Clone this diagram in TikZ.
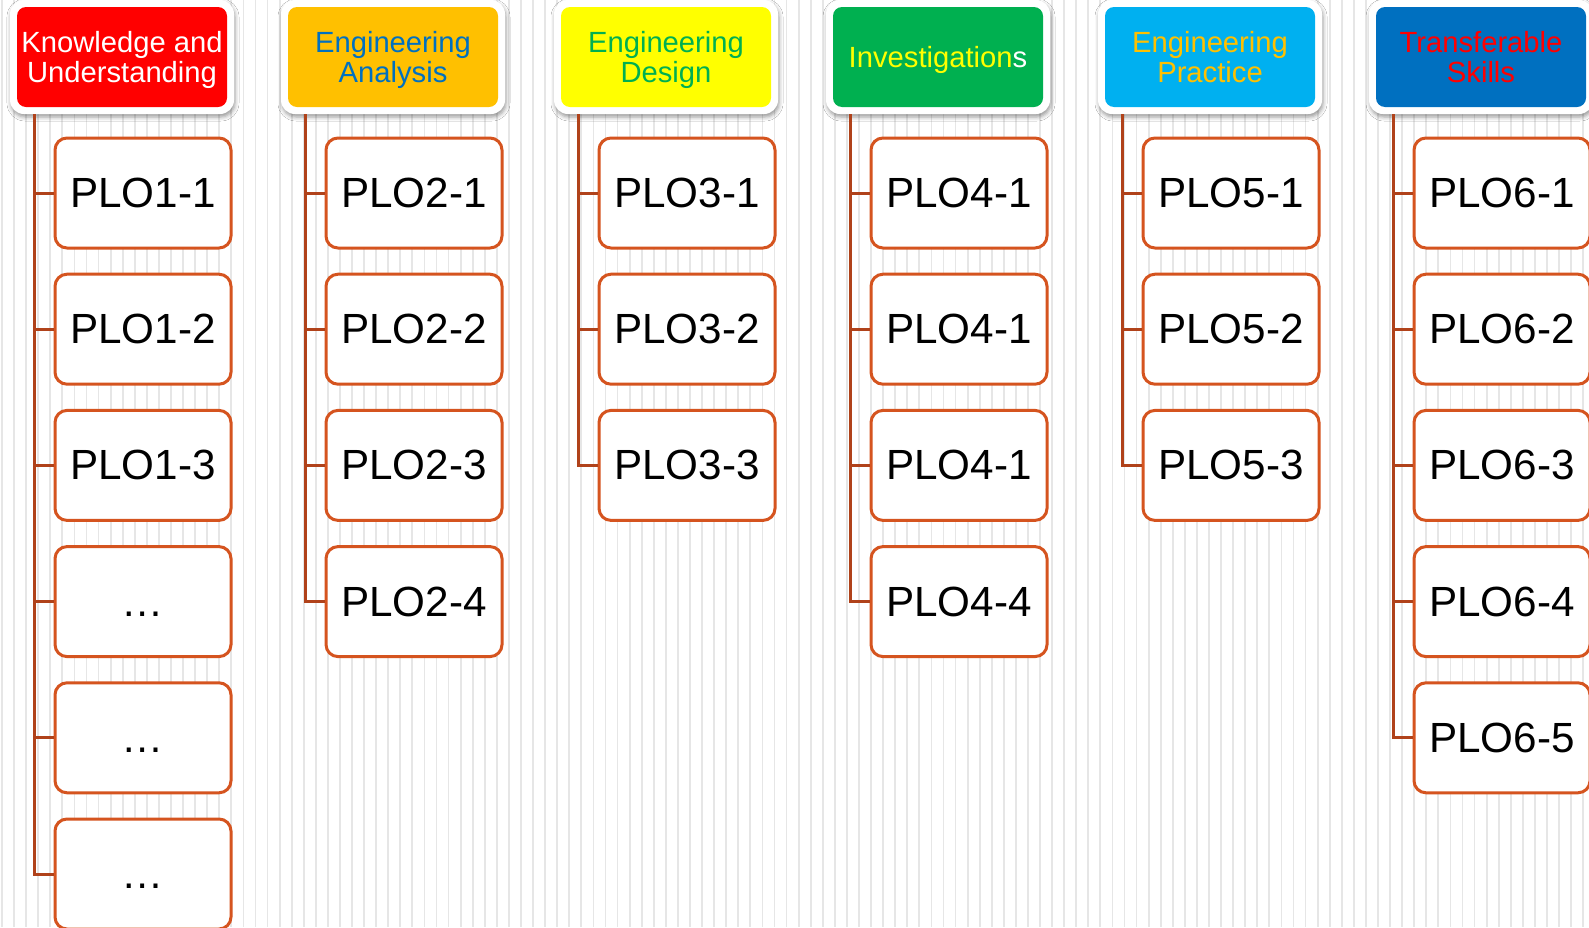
\documentclass[tikz,border=0pt]{standalone}
\usepackage{fontspec}
\setmainfont{Liberation Sans}
\usetikzlibrary{shadows.blur}

\definecolor{ploedge}{HTML}{D5541F}
\definecolor{linkc}{HTML}{B0421A}
\definecolor{stripe}{HTML}{E6E6E6}
\definecolor{hRed}{HTML}{FF0000}
\definecolor{hAmber}{HTML}{FFC000}
\definecolor{hYellow}{HTML}{FFFF00}
\definecolor{hGreen}{HTML}{00B050}
\definecolor{hSky}{HTML}{00B0F0}
\definecolor{hBlue}{HTML}{0070C0}

\tikzset{
  hdrframe/.style={fill=white, rounded corners=14pt, minimum width=224pt,
    minimum height=114pt, inner sep=0pt,
    blur shadow={shadow xshift=1pt, shadow yshift=-3pt,
      shadow blur radius=4pt, shadow opacity=40}},
  hdrbox/.style={rounded corners=9pt, minimum width=210pt, minimum height=100pt,
    inner sep=0pt, align=center, text depth=0pt,
    font=\fontsize{29.2}{30}\selectfont},
  plo/.style={draw=ploedge, line width=3pt, fill=white, rounded corners=12pt,
    minimum width=176pt, minimum height=110pt, inner sep=0pt,
    font=\fontsize{42.2}{48}\selectfont},
  link/.style={draw=linkc, line width=3pt, line join=miter},
}

% ellipsis sitting on the text baseline
\newcommand{\plodots}{\vphantom{P}…}

% header of a column: #1 index, #2 left x, #3 fill, #4 text colour, #5 title
\newcommand{\ploHeader}[5]{%
  \node[hdrframe] (f#1) at (#2+105,57) {};
  \node[hdrbox, fill=#3, text=#4] (h#1) at (#2+105,57) {#5};
  \coordinate (t#1) at (#2+17,114);
}
% outcome boxes of a column: #1 index, #2 left x, #3 list of labels
\newcommand{\ploColumn}[3]{%
  \foreach \lbl [count=\k from 0] in {#3} {
    \node[plo] (c#1-\k) at (#2+126,193+136.2*\k) {\lbl};
    \draw[link] (t#1) |- (c#1-\k.west);
  }
}

\begin{document}
\begin{tikzpicture}[x=1pt, y=-1pt]
  \useasboundingbox (0,0) rectangle (1589,927);
  \clip (0,0) rectangle (1589,927);
  \fill[white] (0,0) rectangle (1589,927);
  % striped backdrop
  \foreach \i in {0,...,131}
    \fill[stripe] (1.1+12.07*\i,0) rectangle ++(1.8,927);

  \ploHeader{1}{17}{hRed}{white}{Knowledge and\\Understanding}
  \ploHeader{2}{288}{hAmber}{hBlue}{Engineering\\Analysis}
  \ploHeader{3}{561}{hYellow}{hGreen}{Engineering\\Design}
  \ploHeader{4}{833}{hGreen}{hYellow}{Investigation\textcolor{white}{s}}
  \ploHeader{5}{1105}{hSky}{hAmber}{Engineering\\Practice}
  \ploHeader{6}{1376}{hBlue}{hRed}{Transferable\\Skills}

  \ploColumn{1}{17}{PLO1-1,PLO1-2,PLO1-3,\plodots,\plodots,\plodots}
  \ploColumn{2}{288}{PLO2-1,PLO2-2,PLO2-3,PLO2-4}
  \ploColumn{3}{561}{PLO3-1,PLO3-2,PLO3-3}
  \ploColumn{4}{833}{PLO4-1,PLO4-1,PLO4-1,PLO4-4}
  \ploColumn{5}{1105}{PLO5-1,PLO5-2,PLO5-3}
  \ploColumn{6}{1376}{PLO6-1,PLO6-2,PLO6-3,PLO6-4,PLO6-5}
\end{tikzpicture}
\end{document}
